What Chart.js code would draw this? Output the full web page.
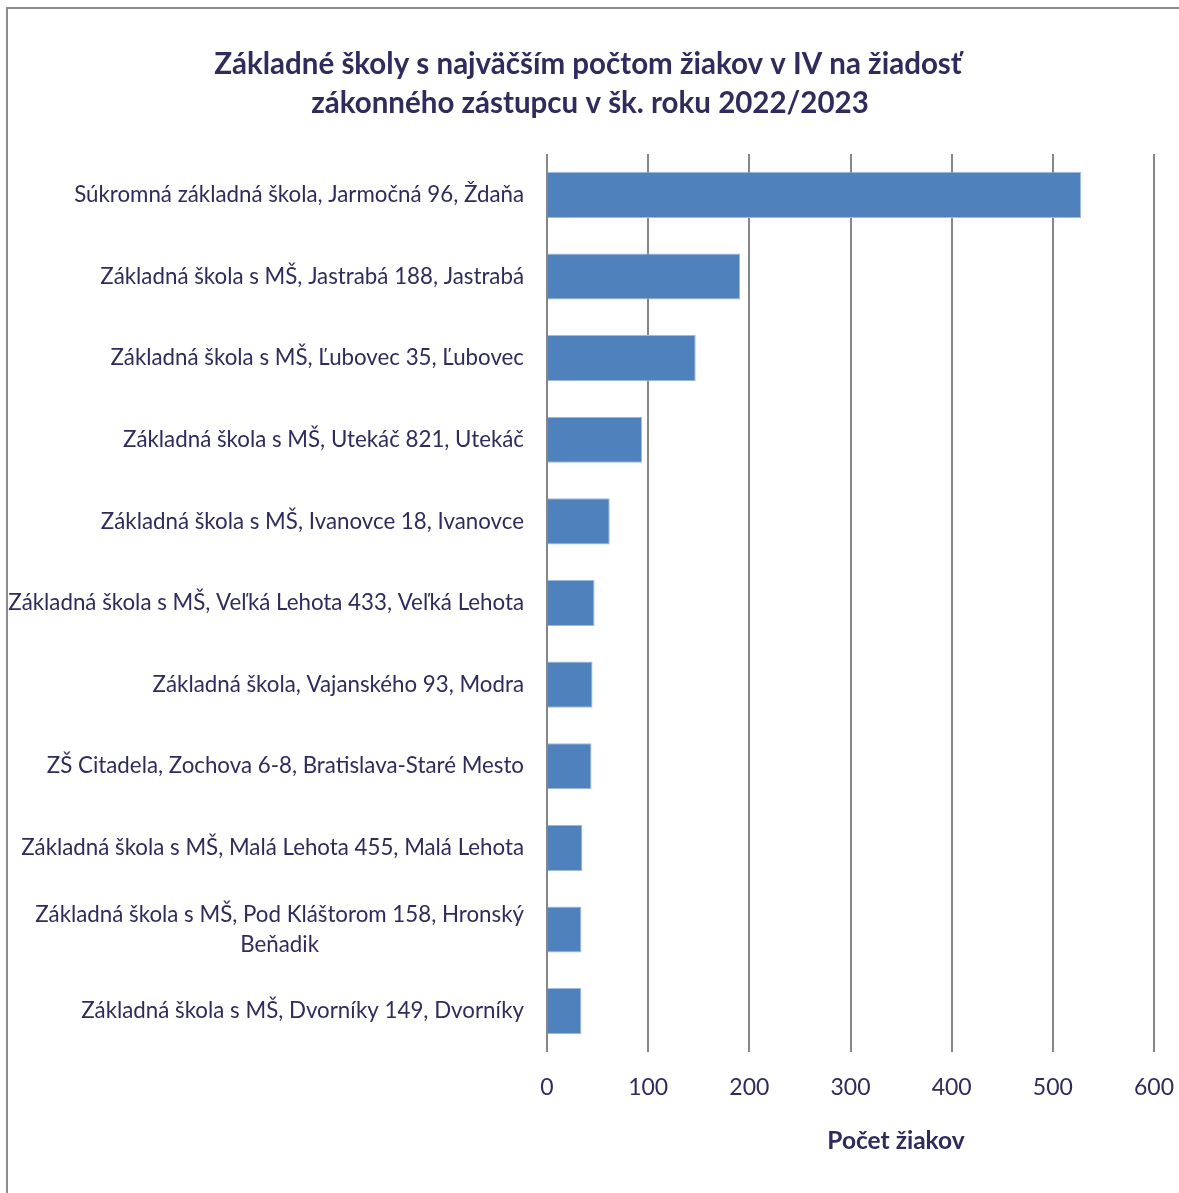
<!DOCTYPE html>
<html>
<head>
<meta charset="utf-8">
<script src="https://cdn.jsdelivr.net/npm/chart.js@4/dist/chart.umd.min.js"></script>
<style>
html,body{margin:0;padding:0;background:#fff;overflow:hidden;}
#wrap{position:relative;width:1179px;height:1193px;}
#frame{position:absolute;left:6px;top:7px;width:1200px;height:1300px;border:2px solid #8c8c8c;box-sizing:border-box;}
canvas{position:absolute;left:0;top:0;}
</style>
</head>
<body>
<div id="wrap"><div id="frame"></div><canvas id="c" width="1179" height="1193"></canvas></div>
<script>
const titleLines = ["Základné školy s najväčším počtom žiakov v IV na žiadosť", "zákonného zástupcu v šk. roku 2022/2023"];
const categories = [
  ["Súkromná základná škola, Jarmočná 96, Ždaňa"],
  ["Základná škola s MŠ, Jastrabá 188, Jastrabá"],
  ["Základná škola s MŠ, Ľubovec 35, Ľubovec"],
  ["Základná škola s MŠ, Utekáč 821, Utekáč"],
  ["Základná škola s MŠ, Ivanovce 18, Ivanovce"],
  ["Základná škola s MŠ, Veľká Lehota 433, Veľká Lehota"],
  ["Základná škola, Vajanského 93, Modra"],
  ["ZŠ Citadela, Zochova 6-8, Bratislava-Staré Mesto"],
  ["Základná škola s MŠ, Malá Lehota 455, Malá Lehota"],
  ["Základná škola s MŠ, Pod Kláštorom 158, Hronský", "Beňadik"],
  ["Základná škola s MŠ, Dvorníky 149, Dvorníky"]
];
const values = [528, 191, 147, 94, 62, 47, 45, 44, 35, 34, 34];
const xTicks = [0, 100, 200, 300, 400, 500, 600];
const axisTitle = "Počet žiakov";

const TXT = '#2f2b5c';
const FONT = 'Lato';

const customText = {
  id: 'customText',
  afterDraw(chart) {
    const ctx = chart.ctx;
    const y = chart.scales.y;
    const area = chart.chartArea;
    ctx.save();
    ctx.fillStyle = TXT;
    ctx.font = 'bold 29.5px ' + FONT;
    ctx.textAlign = 'center';
    ctx.textBaseline = 'middle';
    ctx.fillText(titleLines[0], 588, 64);
    ctx.fillText(titleLines[1], 590, 103);
    ctx.font = '22.3px ' + FONT;
    categories.forEach((lines, i) => {
      const cy = y.getPixelForValue(i);
      const lh = 30;
      const y0 = cy - (lines.length - 1) * lh / 2;
      const rx = area.left - 23;
      const w0 = ctx.measureText(lines[0]).width;
      const cx = rx - w0 / 2;
      lines.forEach((ln, k) => {
        if (k === 0) { ctx.textAlign = 'right'; ctx.fillText(ln, rx, y0); }
        else { ctx.textAlign = 'center'; ctx.fillText(ln, cx, y0 + k * lh); }
      });
    });
    ctx.font = 'bold 24.5px ' + FONT;
    ctx.textAlign = 'center';
    ctx.fillText(axisTitle, 896, 1141);
    ctx.restore();
  }
};

new Chart(document.getElementById('c'), {
  type: 'bar',
  data: {
    labels: categories,
    datasets: [{
      data: values,
      backgroundColor: '#4f81bd',
      borderColor: '#9dbbe0',
      borderWidth: 1,
      categoryPercentage: 1,
      barPercentage: 0.565
    }]
  },
  options: {
    indexAxis: 'y',
    responsive: false,
    animation: false,
    layout: { padding: { top: 154, left: 0, right: 25, bottom: 0 } },
    plugins: { legend: { display: false }, title: { display: false }, tooltip: { enabled: false } },
    scales: {
      x: {
        min: 0, max: 600,
        afterBuildTicks(s) { s.ticks = xTicks.map(v => ({ value: v })); },
        afterFit(s) { s.height = 141; s.paddingLeft = 0; s.paddingRight = 0; },
        grid: { color: '#868686', lineWidth: 2, drawTicks: false },
        border: { display: false },
        ticks: { color: TXT, font: { family: FONT, size: 23 }, padding: 22 }
      },
      y: {
        afterFit(s) { s.width = 547; s.paddingTop = 0; s.paddingBottom = 0; },
        grid: { display: false },
        border: { display: false },
        ticks: { display: false }
      }
    }
  },
  plugins: [customText]
});
</script>
</body>
</html>
